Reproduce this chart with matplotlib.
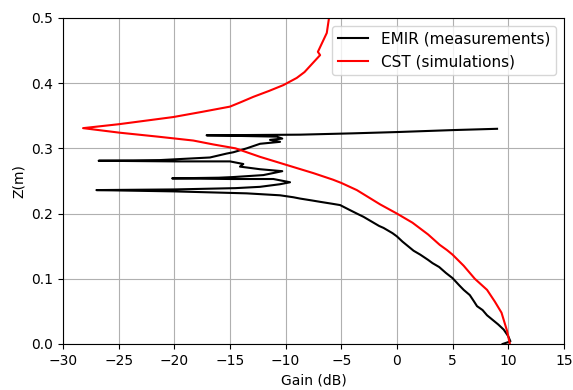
import numpy as np
import matplotlib
matplotlib.use("Agg")
import matplotlib.pyplot as plt

# EMIR measurements (gain in dB vs height in m)
emir_gain = [9.5, 10.2, 10.0, 9.6, 9.1, 8.6, 8.1, 7.7, 7.2, 6.9, 6.55, 6.0,
             5.6, 5.0, 4.4, 3.8, 3.2, 2.8, 2.1, 1.5, 1.0, 0.5, 0.0, -0.4,
             -1.2, -1.6, -2.2, -3.0, -3.6, -4.3, -5.1, -5.8, -6.9, -7.6,
             -8.7, -9.3, -10.5, -13.5, -20.0, -27.0, -20.0, -14.5, -12.3,
             -10.5, -9.6, -11.1, -15.0, -20.2, -16.0, -14.7, -12.0, -10.3,
             -12.3, -14.1, -13.8, -15.0, -20.0, -26.8, -21.3, -16.8, -15.3,
             -14.7, -13.5, -12.3, -10.5, -11.4, -10.3, -10.8, -17.1, -8.7,
             -4.0, 0.0, 5.0, 9.0]
emir_z = [0.0, 0.004, 0.012, 0.022, 0.030, 0.037, 0.044, 0.052, 0.058,
          0.066, 0.075, 0.083, 0.090, 0.101, 0.109, 0.118, 0.124, 0.129,
          0.137, 0.143, 0.150, 0.157, 0.165, 0.170, 0.178, 0.181, 0.187,
          0.195, 0.200, 0.206, 0.213, 0.215, 0.218, 0.220, 0.223, 0.225,
          0.228, 0.231, 0.234, 0.236, 0.237, 0.239, 0.241, 0.245, 0.248,
          0.253, 0.253, 0.254, 0.255, 0.256, 0.259, 0.265, 0.268, 0.272,
          0.276, 0.280, 0.280, 0.281, 0.282, 0.286, 0.292, 0.294, 0.300,
          0.307, 0.310, 0.313, 0.315, 0.318, 0.320, 0.321, 0.323, 0.325,
          0.328, 0.330]

# CST simulations
cst_gain = [10.15, 9.9, 9.4, 8.8, 8.1, 7.0, 6.0, 5.0, 4.5, 3.85, 2.8, 1.4,
            0.5, 0.0, -1.5, -3.6, -5.0, -5.75, -7.5, -10.0, -12.3, -14.5,
            -16.5, -18.3, -21.5, -24.9, -28.2, -25.0, -20.1, -17.5, -15.0,
            -14.0, -12.9, -11.5, -10.2, -9.0, -8.3, -7.6, -6.9, -7.1, -6.3,
            -6.1]
cst_z = [0.0, 0.02, 0.048, 0.065, 0.083, 0.10, 0.12, 0.137, 0.144, 0.152,
         0.168, 0.186, 0.195, 0.200, 0.214, 0.236, 0.247, 0.252, 0.262,
         0.275, 0.287, 0.300, 0.306, 0.312, 0.318, 0.324, 0.331, 0.337,
         0.348, 0.356, 0.364, 0.371, 0.379, 0.388, 0.397, 0.408, 0.417,
         0.430, 0.443, 0.448, 0.477, 0.5]

fig = plt.figure(figsize=(5.73, 3.9), dpi=100)
ax = fig.add_axes([0.11, 0.118, 0.874, 0.836])

ax.plot(emir_gain, emir_z, color='black', linewidth=1.5, label='EMIR (measurements)')
ax.plot(cst_gain, cst_z, color='red', linewidth=1.5, label='CST (simulations)')

ax.set_xlim(-30, 15)
ax.set_ylim(0, 0.5)
ax.set_xticks(np.arange(-30, 16, 5))
ax.set_yticks(np.arange(0, 0.51, 0.1))
ax.grid(True)
ax.set_xlabel('Gain (dB)')
ax.set_ylabel('Z(m)')
ax.legend(loc='upper right', fontsize=11)

fig.savefig('out.png', dpi=100)
